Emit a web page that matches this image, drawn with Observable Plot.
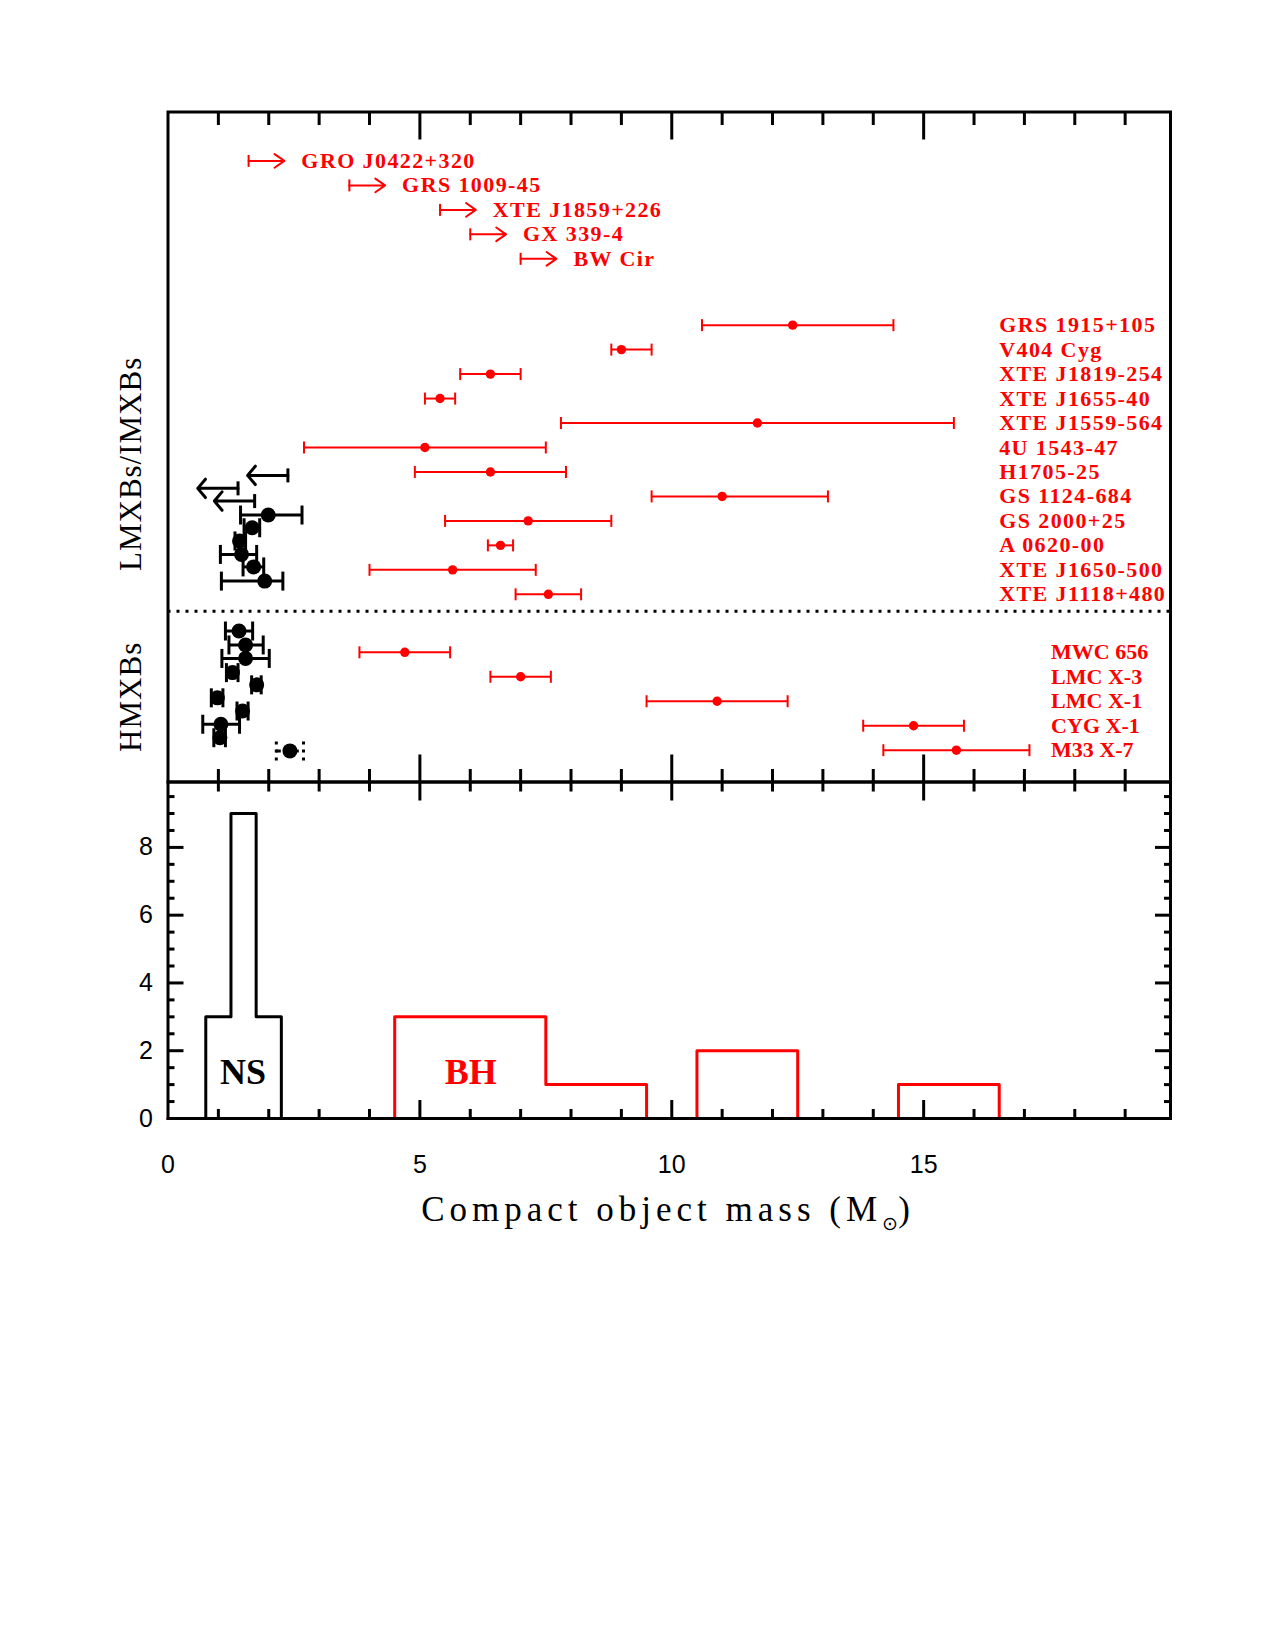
<!DOCTYPE html>
<html><head><meta charset="utf-8">
<script src="https://cdn.jsdelivr.net/npm/d3@7"></script>
<script src="https://cdn.jsdelivr.net/npm/@observablehq/plot@0.6"></script>
<style>
html,body{margin:0;padding:0;background:#fff;width:1275px;height:1650px;overflow:hidden;}
#wrap{position:relative;width:1275px;height:1650px;}
#upper{position:absolute;left:0;top:0;}
#lower{position:absolute;left:0;top:761px;}
#xtitle{position:absolute;left:668px;top:1189px;transform:translateX(-50%);font-family:"Liberation Serif",serif;font-size:35px;letter-spacing:5px;white-space:nowrap;color:#000;line-height:1.2;}
#xtitle sub{font-size:55%;vertical-align:-0.45em;letter-spacing:0;}
g[aria-description="bhlabels"] text{letter-spacing:1.4px;}
g[aria-description="hmlabels"] text{letter-spacing:0px;}
g[aria-description="grouplabels"] text{letter-spacing:1px;}
#lower g[aria-label="x-axis tick label"], #lower g[aria-label="y-axis tick label"]{font-size:25px;font-family:"Liberation Sans",Arial,sans-serif;}
</style></head>
<body><div id="wrap"><div id="upper"></div><div id="lower"></div><div id="xtitle">Compact object mass (M<sub>⊙</sub>)</div></div>
<script>
// ---------- DATA ----------
// Black holes with lower mass limits (LMXBs)
const bhLimitNames = ["GRO J0422+320", "GRS 1009-45", "XTE J1859+226", "GX 339-4", "BW Cir"];
const bhLimitMass = [1.6, 3.6, 5.4, 6.0, 7.0];
const bhLimitRow = [2.0, 3.0, 4.0, 5.0, 6.0];

// Black holes with measured masses (LMXBs/IMXBs)
const bhNames = ["GRS 1915+105", "V404 Cyg", "XTE J1819-254", "XTE J1655-40", "XTE J1559-564", "4U 1543-47",
  "H1705-25", "GS 1124-684", "GS 2000+25", "A 0620-00", "XTE J1650-500", "XTE J1118+480"];
const bhMass = [12.4, 9.0, 6.4, 5.4, 11.7, 5.1, 6.4, 11.0, 7.15, 6.6, 5.65, 7.55];
const bhLo   = [10.6, 8.8, 5.8, 5.1, 7.8, 2.7, 4.9, 9.6, 5.5, 6.35, 4.0, 6.9];
const bhHi   = [14.4, 9.6, 7.0, 5.7, 15.6, 7.5, 7.9, 13.1, 8.8, 6.85, 7.3, 8.2];
const bhRow  = [8.71, 9.71, 10.71, 11.71, 12.71, 13.71, 14.71, 15.71, 16.71, 17.71, 18.71, 19.71];

// Black holes in HMXBs
const hmNames = ["MWC 656", "LMC X-3", "LMC X-1", "CYG X-1", "M33 X-7"];
const hmMass = [4.7, 7.0, 10.9, 14.8, 15.65];
const hmLo   = [3.8, 6.4, 9.5, 13.8, 14.2];
const hmHi   = [5.6, 7.6, 12.3, 15.8, 17.1];
const hmRow  = [22.08, 23.08, 24.08, 25.08, 26.08];

// Neutron stars in LMXBs: upper limits
const nsLimitMass = [2.38, 1.39, 1.72];
const nsLimitRow  = [14.85, 15.38, 15.9];
// Neutron stars in LMXBs: measured
const nsLMass = [1.99, 1.67, 1.42, 1.46, 1.70, 1.92];
const nsLLo   = [1.44, 1.51, 1.33, 1.04, 1.49, 1.06];
const nsLHi   = [2.66, 1.82, 1.54, 1.76, 1.90, 2.28];
const nsLRow  = [16.47, 16.99, 17.53, 18.08, 18.59, 19.17];
// Neutron stars in HMXBs (last one: dashed error bar)
const nsHMass = [1.41, 1.54, 1.54, 1.28, 1.76, 0.98, 1.48, 1.05, 1.03, 2.42];
const nsHLo   = [1.14, 1.21, 1.07, 1.16, 1.66, 0.86, 1.37, 0.69, 0.91, 2.15];
const nsHHi   = [1.68, 1.89, 2.01, 1.39, 1.85, 1.09, 1.59, 1.42, 1.14, 2.69];
const nsHRow  = [21.21, 21.78, 22.33, 22.91, 23.41, 23.94, 24.48, 25.02, 25.57, 26.11];
const nsHDashed = [false, false, false, false, false, false, false, false, false, true];

const dividerRow = 20.4;
const groupLabels = ["LMXBs/IMXBs", "HMXBs"];
const groupRows = [14.38, 23.9];

// Histogram
const nsBinLo = [0.75, 1.25, 1.75];
const nsBinHi = [1.25, 1.75, 2.25];
const nsCount = [3, 9, 3];
const bhBinLo = [4.5, 7.5, 10.5, 14.5];
const bhBinHi = [7.5, 9.5, 12.5, 16.5];
const bhCount = [3, 1, 2, 1];
const histLabels = ["NS", "BH"];
const histLabelX = [1.49, 6.01];
const histLabelY = [1.36, 1.36];

const xTicks = [0, 5, 10, 15];
const yTicks = [0, 2, 4, 6, 8];
const xMax = 19.9;
const yMaxHist = 9.93;
const rowMax = 27.38;

// ---------- build tables ----------
const RED = "#ff0000";
const bhLim = bhLimitNames.map((name, i) => ({name, m: bhLimitMass[i], row: bhLimitRow[i], tip: bhLimitMass[i] + 0.71}));
const bhErr = bhNames.map((name, i) => ({name, m: bhMass[i], lo: bhLo[i], hi: bhHi[i], row: bhRow[i]}));
const hmErr = hmNames.map((name, i) => ({name, m: hmMass[i], lo: hmLo[i], hi: hmHi[i], row: hmRow[i]}));
const nsLim = nsLimitMass.map((m, i) => ({m, row: nsLimitRow[i], tip: m - 0.8}));
const nsL = nsLMass.map((m, i) => ({m, lo: nsLLo[i], hi: nsLHi[i], row: nsLRow[i]}));
const nsH = nsHMass.map((m, i) => ({m, lo: nsHLo[i], hi: nsHHi[i], row: nsHRow[i], dashed: nsHDashed[i]}));
const nsHSolid = nsH.filter(d => !d.dashed), nsHDash = nsH.filter(d => d.dashed);
const groups = groupLabels.map((t, i) => ({t, row: groupRows[i]}));

function stepPoints(lo, hi, c) {
  const pts = [{x: 0, y: 0}];
  lo.forEach((l, i) => {
    pts.push({x: l, y: c[i]});
    if (i === lo.length - 1 || lo[i + 1] !== hi[i]) pts.push({x: hi[i], y: 0});
  });
  pts.push({x: xMax, y: 0});
  return pts;
}
const nsStep = stepPoints(nsBinLo, nsBinHi, nsCount);
const bhStep = stepPoints(bhBinLo, bhBinHi, bhCount);
const histText = histLabels.map((t, i) => ({t, x: histLabelX[i], y: histLabelY[i]}));

const cap = {draw(ctx, size) { const h = Math.sqrt(size / Math.PI); ctx.moveTo(0, -h); ctx.lineTo(0, h); }};

const minorX = d3.range(1, 20).filter(d => d % 5 !== 0);
const majorX = [5, 10, 15];
const minorY = d3.range(0.5, 10, 0.5).filter(d => d % 2 !== 0);
const majorY = [2, 4, 6, 8];

const common = {
  width: 1275, marginLeft: 167.5, marginRight: 105,
  x: {domain: [0, xMax]},
  style: {background: "transparent", overflow: "visible", fontFamily: "Liberation Serif"}
};
const tk = {strokeWidth: 3, fill: "none", label: null};
const labelFont = {fontFamily: "Liberation Serif", fontWeight: "bold", fontSize: 22, fill: RED};

// ---------- upper panel ----------
const upper = Plot.plot({
  ...common,
  height: 800, marginTop: 111.5, marginBottom: 18.5,
  y: {domain: [0, rowMax], reverse: true, axis: null},
  marks: [
    Plot.ruleY([dividerRow], {stroke: "black", strokeWidth: 3, strokeDasharray: "3,6"}),
    // red lower limits
    Plot.arrow(bhLim, {x1: "m", x2: "tip", y1: "row", y2: "row", stroke: RED, strokeWidth: 2, headLength: 9, headAngle: 70}),
    Plot.dot(bhLim, {x: "m", y: "row", symbol: cap, r: 6, stroke: RED, fill: "none", strokeWidth: 2}),
    Plot.text(bhLim, {x: "tip", y: "row", text: "name", textAnchor: "start", dx: 17, ariaDescription: "bhlabels", ...labelFont}),
    // red error bars
    Plot.ruleY(bhErr, {y: "row", x1: "lo", x2: "hi", stroke: RED, strokeWidth: 2}),
    Plot.dot(bhErr, {x: "lo", y: "row", symbol: cap, r: 6, stroke: RED, fill: "none", strokeWidth: 2}),
    Plot.dot(bhErr, {x: "hi", y: "row", symbol: cap, r: 6, stroke: RED, fill: "none", strokeWidth: 2}),
    Plot.dot(bhErr, {x: "m", y: "row", r: 4.7, fill: RED}),
    Plot.text(bhErr, {x: () => 16.5, y: "row", text: "name", textAnchor: "start", ariaDescription: "bhlabels", ...labelFont}),
    Plot.ruleY(hmErr, {y: "row", x1: "lo", x2: "hi", stroke: RED, strokeWidth: 2}),
    Plot.dot(hmErr, {x: "lo", y: "row", symbol: cap, r: 6, stroke: RED, fill: "none", strokeWidth: 2}),
    Plot.dot(hmErr, {x: "hi", y: "row", symbol: cap, r: 6, stroke: RED, fill: "none", strokeWidth: 2}),
    Plot.dot(hmErr, {x: "m", y: "row", r: 4.7, fill: RED}),
    Plot.text(hmErr, {x: () => 17.53, y: "row", text: "name", textAnchor: "start", ariaDescription: "hmlabels", ...labelFont}),
    // neutron stars
    Plot.arrow(nsLim, {x1: "m", x2: "tip", y1: "row", y2: "row", stroke: "black", strokeWidth: 3, headLength: 6, headAngle: 100}),
    Plot.dot(nsLim, {x: "m", y: "row", symbol: cap, r: 7, stroke: "black", fill: "none", strokeWidth: 3}),
    Plot.ruleY(nsL, {y: "row", x1: "lo", x2: "hi", stroke: "black", strokeWidth: 3}),
    Plot.dot(nsL, {x: "lo", y: "row", symbol: cap, r: 9.5, stroke: "black", fill: "none", strokeWidth: 3}),
    Plot.dot(nsL, {x: "hi", y: "row", symbol: cap, r: 9.5, stroke: "black", fill: "none", strokeWidth: 3}),
    Plot.dot(nsL, {x: "m", y: "row", r: 7.5, fill: "black"}),
    Plot.ruleY(nsHSolid, {y: "row", x1: "lo", x2: "hi", stroke: "black", strokeWidth: 3}),
    Plot.dot(nsHSolid, {x: "lo", y: "row", symbol: cap, r: 9.5, stroke: "black", fill: "none", strokeWidth: 3}),
    Plot.dot(nsHSolid, {x: "hi", y: "row", symbol: cap, r: 9.5, stroke: "black", fill: "none", strokeWidth: 3}),
    Plot.ruleY(nsHDash, {y: "row", x1: "lo", x2: "hi", stroke: "black", strokeWidth: 3, strokeDasharray: "5,13"}),
    Plot.dot(nsHDash, {x: "lo", y: "row", symbol: cap, r: 9.5, stroke: "black", fill: "none", strokeWidth: 3, strokeDasharray: "3,5"}),
    Plot.dot(nsHDash, {x: "hi", y: "row", symbol: cap, r: 9.5, stroke: "black", fill: "none", strokeWidth: 3, strokeDasharray: "3,5"}),
    Plot.dot(nsH, {x: "m", y: "row", r: 7.5, fill: "black"}),
    // group labels
    Plot.text(groups, {frameAnchor: "left", y: "row", text: "t", rotate: -90, dx: -36.5, textAnchor: "middle", fontSize: 31, fontFamily: "Liberation Serif", fill: "black", ariaDescription: "grouplabels"}),
    // axes (inward ticks)
    Plot.axisX(minorX, {anchor: "top", tickSize: -12.5, ...tk}),
    Plot.axisX(majorX, {anchor: "top", tickSize: -27, ...tk}),
    Plot.axisX(minorX, {anchor: "bottom", tickSize: -12.5, ...tk}),
    Plot.axisX(majorX, {anchor: "bottom", tickSize: -27, ...tk}),
    Plot.frame({stroke: "black", strokeWidth: 3})
  ]
});
document.getElementById("upper").append(upper);

// ---------- lower panel ----------
const lower = Plot.plot({
  ...common,
  height: 457, marginTop: 20.5, marginBottom: 100,
  y: {domain: [0, yMaxHist]},
  marks: [
    Plot.line(nsStep, {x: "x", y: "y", curve: "step-after", stroke: "black", strokeWidth: 3}),
    Plot.line(bhStep, {x: "x", y: "y", curve: "step-after", stroke: RED, strokeWidth: 3}),
    Plot.text(histText.slice(0, 1), {x: "x", y: "y", text: "t", fontSize: 36, fontWeight: "bold", fontFamily: "Liberation Serif", fill: "black"}),
    Plot.text(histText.slice(1), {x: "x", y: "y", text: "t", fontSize: 36, fontWeight: "bold", fontFamily: "Liberation Serif", fill: RED}),
    Plot.axisX(minorX, {anchor: "top", tickSize: -9, ...tk}),
    Plot.axisX(majorX, {anchor: "top", tickSize: -18, ...tk}),
    Plot.axisX(minorX, {anchor: "bottom", tickSize: -9, ...tk}),
    Plot.axisX(majorX, {anchor: "bottom", tickSize: -18, ...tk}),
    Plot.axisY(minorY, {anchor: "left", tickSize: -7, ...tk}),
    Plot.axisY(majorY, {anchor: "left", tickSize: -16, ...tk}),
    Plot.axisY(minorY, {anchor: "right", tickSize: -7, ...tk}),
    Plot.axisY(majorY, {anchor: "right", tickSize: -16, ...tk}),
    Plot.axisX(xTicks, {anchor: "bottom", tickSize: 0, tickPadding: 37, fontSize: 25, fontFamily: "Liberation Sans", label: null, fill: "black"}),
    Plot.axisY(yTicks, {anchor: "left", tickSize: 0, tickPadding: 15, fontSize: 25, fontFamily: "Liberation Sans", label: null, fill: "black"}),
    Plot.frame({stroke: "black", strokeWidth: 3})
  ]
});
document.getElementById("lower").append(lower);
</script></body></html>
